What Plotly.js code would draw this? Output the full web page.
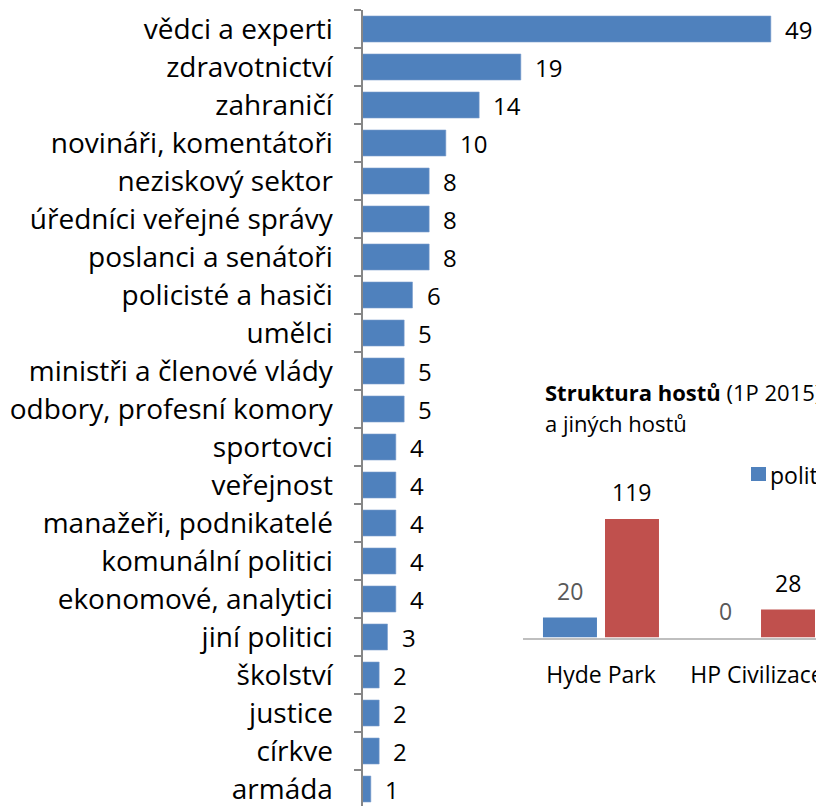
<!DOCTYPE html>
<html><head><meta charset="utf-8">
<script src="https://cdn.plot.ly/plotly-3.0.1.min.js"></script>
<style>html,body{margin:0;padding:0;background:#fff}</style>
</head><body>
<div id="chart" style="width:816px;height:806px"></div>
<script>
// Main chart data
const categories = ["vědci a experti","zdravotnictví","zahraničí","novináři, komentátoři","neziskový sektor","úředníci veřejné správy","poslanci a senátoři","policisté a hasiči","umělci","ministři a členové vlády","odbory, profesní komory","sportovci","veřejnost","manažeři, podnikatelé","komunální politici","ekonomové, analytici","jiní politici","školství","justice","církve","armáda"];
const values = [49,19,14,10,8,8,8,6,5,5,5,4,4,4,4,4,3,2,2,2,1];

// Inset chart data
const insetCategories = ["Hyde Park","HP Civilizace"];
const insetSeriesNames = ["politici","ostatní hosté"];
const insetPoliticians = [20,0];
const insetOthers = [119,28];

const FONT = "'Open Sans', sans-serif";
const BLUE = "#4f81bd", RED = "#c0504d", AXIS = "#868686";

const main = {
  type: "bar", orientation: "h",
  x: values, y: categories,
  xaxis: "x", yaxis: "y",
  width: 0.684,
  marker: {color: BLUE, line: {color: "#7da0cf", width: 0.6}},
  hoverinfo: "x+y", showlegend: false
};
const insetBlue = {
  type: "bar", x: insetCategories, y: insetPoliticians, name: insetSeriesNames[0],
  xaxis: "x2", yaxis: "y2", width: 0.346, offset: -0.372,
  marker: {color: BLUE}, showlegend: false
};
const insetRed = {
  type: "bar", x: insetCategories, y: insetOthers, name: insetSeriesNames[1],
  xaxis: "x2", yaxis: "y2", width: 0.346, offset: 0.0256,
  marker: {color: RED}, showlegend: false
};

const annotations = [];
values.forEach((v, i) => annotations.push({
  x: v, y: categories[i], xref: "x", yref: "y", text: String(v),
  showarrow: false, xanchor: "left", yanchor: "middle", xshift: 12,
  font: {family: FONT, size: 24, color: "#000"}
}));
insetPoliticians.forEach((v, i) => annotations.push({
  x: i - 0.372 + 0.173, y: v, xref: "x2", yref: "y2", text: String(v),
  showarrow: false, xanchor: "center", yanchor: "bottom", yshift: 9,
  font: {family: FONT, size: 23, color: "#595959"}
}));
insetOthers.forEach((v, i) => annotations.push({
  x: i + 0.0256 + 0.173, y: v, xref: "x2", yref: "y2", text: String(v),
  showarrow: false, xanchor: "center", yanchor: "bottom", yshift: 9,
  font: {family: FONT, size: 23, color: "#000"}
}));
annotations.push({
  xref: "paper", yref: "paper", x: 543/816, y: (806-392)/806, xanchor: "left", yanchor: "middle",
  text: "<b>Struktura hostů</b> (1P 2015): počet politiků", showarrow: false, align: "left",
  font: {family: FONT, size: 22, color: "#000"}
});
annotations.push({
  xref: "paper", yref: "paper", x: 543/816, y: (806-423)/806, xanchor: "left", yanchor: "middle",
  text: "a jiných hostů", showarrow: false, align: "left",
  font: {family: FONT, size: 22, color: "#000"}
});
annotations.push({
  xref: "paper", yref: "paper", x: 768/816, y: (806-475)/806, xanchor: "left", yanchor: "middle",
  text: insetSeriesNames[0], showarrow: false, align: "left",
  font: {family: FONT, size: 23, color: "#000"}
});

const layout = {
  width: 816, height: 806,
  margin: {l: 0, r: 0, t: 0, b: 0},
  paper_bgcolor: "#fff", plot_bgcolor: "rgba(0,0,0,0)",
  showlegend: false,
  barmode: "overlay",
  xaxis: {domain: [362.5/816, 1], range: [0, 54.42], visible: false, fixedrange: true},
  yaxis: {
    domain: [0, 796/806], type: "category", range: [20.447, -0.5],
    tickson: "boundaries", ticks: "outside", ticklen: 7, tickwidth: 1.5, tickcolor: AXIS,
    showline: true, linecolor: AXIS, linewidth: 2, showgrid: false, zeroline: false,
    automargin: false, ticklabelstandoff: 22,
    tickfont: {family: FONT, size: 28, color: "#000"}
  },
  xaxis2: {
    domain: [523/816, 1], anchor: "y2", type: "category", range: [-0.5, 1.378],
    showline: true, linecolor: "#bfbfbf", linewidth: 2, ticks: "", showgrid: false,
    automargin: false, ticklabelstandoff: 16,
    tickfont: {family: FONT, size: 23, color: "#000"}
  },
  yaxis2: {
    domain: [(806-637.5)/806, (806-500)/806], anchor: "x2", range: [0, 138],
    visible: false, showgrid: false, zeroline: false
  },
  shapes: [{
    type: "rect", xref: "paper", yref: "paper",
    x0: 751/816, x1: 766/816, y0: (806-481)/806, y1: (806-467)/806,
    fillcolor: BLUE, line: {width: 0}
  }],
  annotations: annotations
};

Plotly.newPlot("chart", [main, insetBlue, insetRed], layout, {displayModeBar: false, staticPlot: true});
</script>
</body></html>
